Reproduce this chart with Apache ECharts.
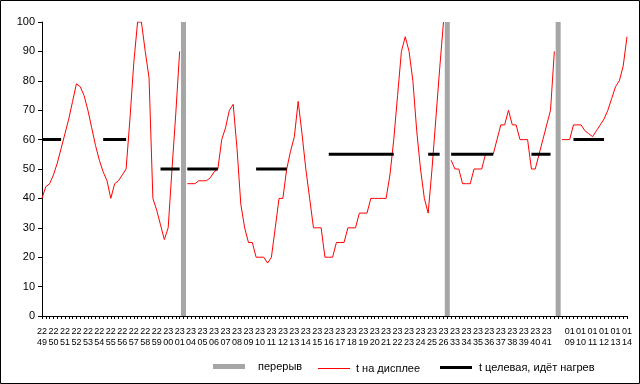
<!DOCTYPE html>
<html><head><meta charset="utf-8">
<script src="https://cdn.jsdelivr.net/npm/echarts@6/dist/echarts.min.js"></script>
<style>html,body{margin:0;padding:0;background:#fff}#c{width:640px;height:384px}</style>
</head><body><div id="c"></div>
<script>
// minute labels (one per 3 readings, 20 s apart); '' = break slot
const tickLabels = [
 '22\n49','22\n50','22\n51','22\n52','22\n53','22\n54','22\n55','22\n56','22\n57','22\n58','22\n59',
 '23\n00','23\n01','23\n04','23\n05','23\n06','23\n07','23\n08','23\n09','23\n10','23\n11','23\n12',
 '23\n13','23\n14','23\n15','23\n16','23\n17','23\n18','23\n19','23\n20','23\n21','23\n22','23\n23',
 '23\n24','23\n25','23\n26','23\n33','23\n34','23\n35','23\n36','23\n37','23\n38','23\n39','23\n40',
 '23\n41','','01\n09','01\n10','01\n11','01\n12','01\n13','01\n14'
];
const readingsPerLabel = 3;
const breakIndex = [37, 106, 135];
const tDisplay = [
 40,44,45,48,52,57,62,67,73,79,
 78,75,70,64,58,53,49,46,40,45,
 46,48,50,67,86,100,100,90,81,40,
 36,31,26,30,50,69,90,null,45,45,
 45,46,46,46,47,49,50,60,64,70,
 72,57,38,30,25,25,20,20,20,18,
 20,30,40,40,50,56,61,73,62,50,
 40,30,30,30,20,20,20,25,25,25,
 30,30,30,35,35,35,40,40,40,40,
 40,48,60,75,90,95,90,80,63,50,
 40,35,50,67,84,100,null,53,50,50,
 45,45,45,50,50,50,55,55,55,60,
 65,65,70,65,65,60,60,60,50,50,
 55,60,65,70,90,null,60,60,60,65,
 65,65,63,62,61,63,65,67,70,74,
 78,80,85,95
];
const _ = null;
const tTarget = [
 60,60,60,60,60,60,_,_,_,_,
 _,_,_,_,_,_,60,60,60,60,
 60,60,60,_,_,_,_,_,_,_,
 _,50,50,50,50,50,50,_,50,50,
 50,50,50,50,50,50,50,_,_,_,
 _,_,_,_,_,_,50,50,50,50,
 50,50,50,50,50,_,_,_,_,_,
 _,_,_,_,_,55,55,55,55,55,
 55,55,55,55,55,55,55,55,55,55,
 55,55,55,_,_,_,_,_,_,_,
 _,55,55,55,55,_,_,55,55,55,
 55,55,55,55,55,55,55,55,55,_,
 _,_,_,_,_,_,_,_,55,55,
 55,55,55,55,_,_,_,_,_,60,
 60,60,60,60,60,60,60,60,_,_,
 _,_,_,_
];
const breakHeight = 100;

const N = tDisplay.length;
const categories = [];
for (let i = 0; i < N; i++) categories.push(i % readingsPerLabel === 0 ? (tickLabels[i / readingsPerLabel] || '') : '');
const breakData = categories.map((c, i) => breakIndex.includes(i) ? breakHeight : null);

const font = 'Liberation Sans, Arial, sans-serif';
const legText = {color: '#000', fontSize: 11, fontFamily: font};
const chart = echarts.init(document.getElementById('c'), null, {renderer: 'canvas'});
chart.setOption({
  animation: false,
  backgroundColor: '#fff',
  textStyle: {fontFamily: font},
  grid: {left: 42, right: 13, top: 22, bottom: 68, containLabel: false},
  graphic: [{type: 'rect', shape: {x: 0.5, y: 0.5, width: 639, height: 383}, style: {fill: null, stroke: '#000', lineWidth: 1}, silent: true}],
  xAxis: {
    type: 'category', boundaryGap: false, data: categories,
    axisLine: {lineStyle: {color: '#000', width: 1}},
    axisTick: {show: true, interval: 0, length: 3, lineStyle: {color: '#000'}},
    axisLabel: {interval: 0, color: '#000', fontSize: 9, lineHeight: 11, margin: 10, fontFamily: font},
    splitLine: {show: false}
  },
  yAxis: {
    type: 'value', min: 0, max: 100, interval: 10,
    axisLine: {show: true, lineStyle: {color: '#000', width: 1}},
    axisTick: {show: true, length: 4, lineStyle: {color: '#000'}},
    axisLabel: {color: '#000', fontSize: 11, margin: 7, fontFamily: font},
    splitLine: {show: false}
  },
  legend: [
    {data: [{name: 'перерыв', icon: 'rect'}], left: 213, top: 361, padding: 0, itemWidth: 32, itemHeight: 5,
     textStyle: Object.assign({padding: [0, 0, 0, 8]}, legText)},
    {data: [{name: 't на дисплее', icon: 'rect'}], left: 318, top: 363, padding: 0, itemWidth: 32, itemHeight: 1,
     textStyle: Object.assign({padding: [0, 0, 0, 1]}, legText)},
    {data: [{name: 't целевая, идёт нагрев', icon: 'rect'}], left: 440, top: 362, padding: 0, itemWidth: 32, itemHeight: 3,
     textStyle: Object.assign({padding: [0, 0, 0, 2]}, legText)}
  ],
  series: [
    {name: 'перерыв', type: 'bar', data: breakData, barWidth: 5, itemStyle: {color: '#a6a6a6'}, z: 3},
    {name: 't на дисплее', type: 'line', data: tDisplay, symbol: 'none', connectNulls: false,
     lineStyle: {color: '#ff0000', width: 1}, itemStyle: {color: '#ff0000'}, z: 4},
    {name: 't целевая, идёт нагрев', type: 'line', data: tTarget, symbol: 'none', connectNulls: false,
     lineStyle: {color: '#000', width: 3}, itemStyle: {color: '#000'}, z: 5}
  ]
});
</script></body></html>
